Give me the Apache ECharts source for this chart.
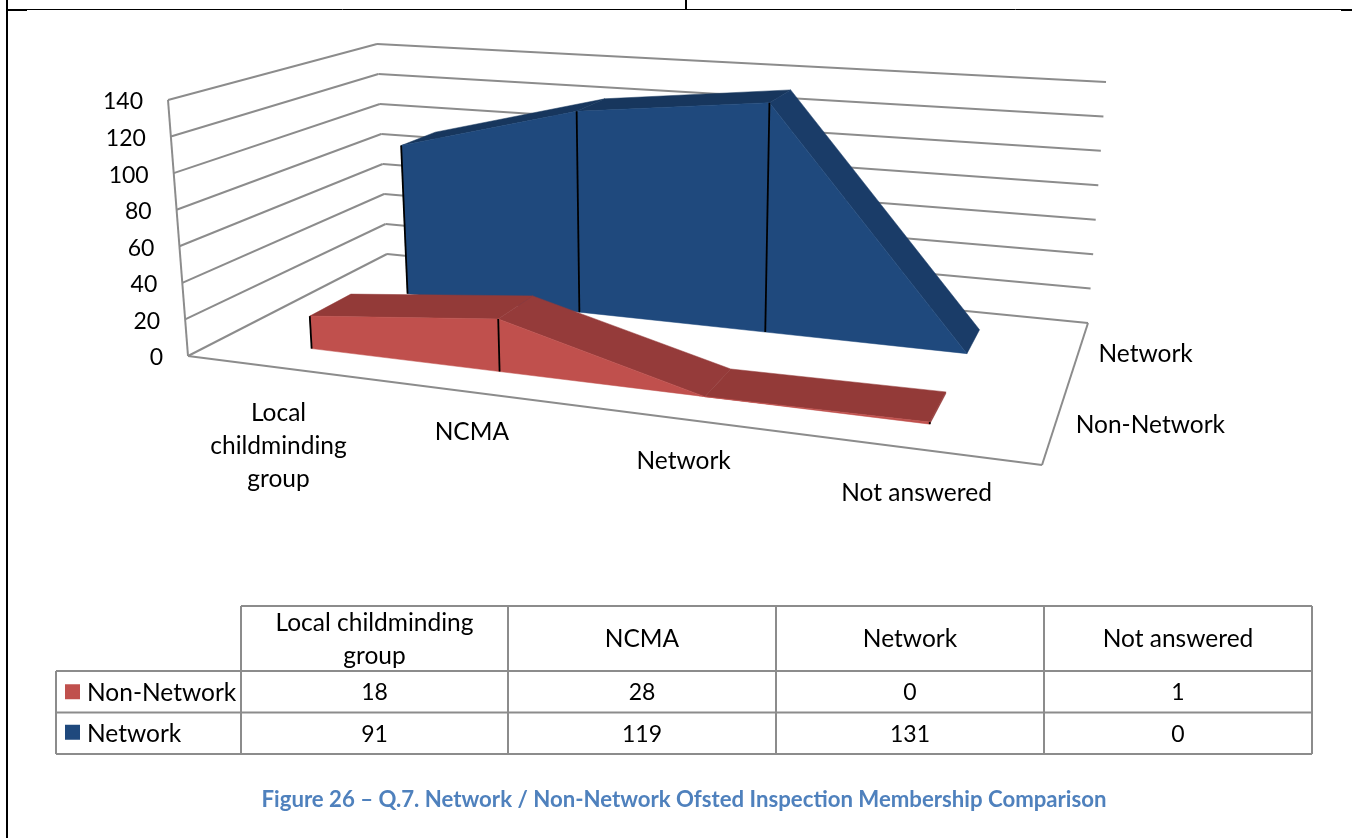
<!DOCTYPE html>
<html><head><meta charset="utf-8">
<style>html,body{margin:0;padding:0;background:#fff}#c{width:1352px;height:838px}</style>
<script src="https://cdn.jsdelivr.net/npm/echarts@6/dist/echarts.min.js"></script>
</head><body><div id="c"></div>
<script>
// ---- data ----
const categories = ['Local childminding group', 'NCMA', 'Network', 'Not answered'];
const axisCategoryLabels = ['Local\nchildminding\ngroup', 'NCMA', 'Network', 'Not answered'];
const tableCategoryLabels = ['Local childminding\ngroup', 'NCMA', 'Network', 'Not answered'];
const nonNetwork = [18, 28, 0, 1];
const network = [91, 119, 131, 0];
const seriesNames = ['Non-Network', 'Network'];
const valueTicks = [0, 20, 40, 60, 80, 100, 120, 140];
const captionText = 'Figure 26 \u2013 Q.7. Network / Non-Network Ofsted Inspection Membership Comparison';

// ---- look ----
const FONT = 'Lato, Carlito, sans-serif';
const LABEL = '24.5px ' + FONT;
const NUM = '23px ' + FONT;
const GREY = '#8c8c8c';
const BLUE = {front: '#1f497d', rise: '#17365d', fall: '#1a3c68'};
const RED = {front: '#c0504d', rise: '#933a38', fall: '#953b3a'};
const W = 1352, H = 838;
const categoryLabelDrop = [29, 23, 25, 28];

// ---- projection of the 3D box: unit (u along categories, v depth, w height) to the page ----
const FLOOR = [[188,356],[1042,465],[1088,323],[387,254]];
const ROOF = [[168,100],[1062,161],[1106,82],[377,44]];
function homography(q) {
  const [p0,p1,p2,p3] = q;
  const dx1=p1[0]-p2[0], dx2=p3[0]-p2[0], sx=p0[0]-p1[0]+p2[0]-p3[0];
  const dy1=p1[1]-p2[1], dy2=p3[1]-p2[1], sy=p0[1]-p1[1]+p2[1]-p3[1];
  const det=dx1*dy2-dx2*dy1;
  const g=(sx*dy2-dx2*sy)/det, h=(dx1*sy-sx*dy1)/det;
  const a=p1[0]-p0[0]+g*p1[0], b=p3[0]-p0[0]+h*p3[0];
  const d=p1[1]-p0[1]+g*p1[1], e=p3[1]-p0[1]+h*p3[1];
  return (u,v)=>{const k=g*u+h*v+1;return [(a*u+b*v+p0[0])/k,(d*u+e*v+p0[1])/k];};
}
const floorH = homography(FLOOR), roofH = homography(ROOF);
function project(u,v,w){
  const f=floorH(u,v), r=roofH(u,v);
  return [f[0]+(r[0]-f[0])*w, f[1]+(r[1]-f[1])*w];
}
// the hidden grid fills the page, so its scales give u and w
const unit = (api,cat,val)=>{const p=api.coord([cat,val]);return [p[0]/W,1-p[1]/H];};
const line = (a,b,color,width,z2)=>({type:'line',z2:z2||0,shape:{x1:a[0],y1:a[1],x2:b[0],y2:b[1]},style:{stroke:color,lineWidth:width}});
const poly = (pts,color,z2)=>({type:'polygon',z2:z2||0,shape:{points:pts},style:{fill:color,stroke:color,lineWidth:.5}});
const text = (t,x,y,align,vAlign,font,fill)=>({type:'text',z2:5,style:{text:t,x,y,align,verticalAlign:vAlign,font:font||LABEL,fill:fill||'#000',lineHeight:33}});

function areaSeries(name,values,v0,v1,col,z){
  return {type:'custom',name,xAxisIndex:0,yAxisIndex:0,z,silent:true,clip:false,
    data:values.map((val,i)=>[i,val]),
    encode:{x:0,y:1},
    renderItem(params,api){
      const i=api.value(0), val=api.value(1), kids=[];
      const [u,w]=unit(api,i,val), [,w0]=unit(api,i,0);
      if(val>0) kids.push(line(project(u,v0,w0),project(u,v0,w),'#000',1.8,3));
      if(i<values.length-1){
        const nv=values[i+1];
        const [un,wn]=unit(api,i+1,nv);
        kids.push(poly([project(u,v0,w),project(un,v0,wn),project(un,v1,wn),project(u,v1,w)],nv>=val?col.rise:col.fall,1));
        kids.push(poly([project(u,v0,w0),project(un,v0,w0),project(un,v0,wn),project(u,v0,w)],col.front,2));
      } else if(val>0){
        kids.push(poly([project(u,v0,w0),project(u,v1,w0),project(u,v1,w),project(u,v0,w)],col.fall,1));
      }
      return {type:'group',children:kids};
    }};
}

const wallSeries = {type:'custom',xAxisIndex:0,yAxisIndex:0,z:1,silent:true,clip:false,
  data:valueTicks.map(t=>[0,t]),encode:{x:0,y:1},
  renderItem(params,api){
    const t=api.value(1), [,w]=unit(api,0,t), kids=[];
    const left=project(0,0,w), back=project(0,1,w), right=project(1,1,w);
    kids.push(line(left,back,GREY,2), line(back,right,GREY,2));
    kids.push(text(String(t),left[0]-25,left[1]+2,'right','middle',NUM));
    if(params.dataIndex===0){
      kids.push(line(project(0,0,0),project(1,0,0),GREY,2));
      kids.push(line(project(1,0,0),project(1,1,0),GREY,2));
      kids.push(line(project(0,0,0),project(0,0,1),GREY,2));
    }
    return {type:'group',children:kids};
  }};

const labelSeries = {type:'custom',xAxisIndex:0,yAxisIndex:0,z:4,silent:true,clip:false,
  data:categories.map((c,i)=>[i,0]),encode:{x:0,y:1},
  renderItem(params,api){
    const i=api.value(0), [u]=unit(api,i,0), p=project(u,0,0);
    return text(axisCategoryLabels[i],p[0],p[1]+categoryLabelDrop[i],'center','top');
  }};

const depthLabelSeries = {type:'custom',xAxisIndex:0,yAxisIndex:0,z:4,silent:true,clip:false,
  data:seriesNames.map((n,i)=>[0,0]),encode:{x:0,y:1},
  renderItem(params,api){
    const i=params.dataIndex, p=project(1,i===0?.25:.75,0);
    return text(seriesNames[i],p[0]+20,p[1]+2,'left','middle');
  }};

// ---- table, page rules and caption ----
const colX=[56,241,508,776,1044,1312], rowY=[606,671,712.5,754];
const graphics=[];
const gLine=(x1,y1,x2,y2,color,w)=>graphics.push({type:'line',silent:true,shape:{x1,y1,x2,y2},style:{stroke:color,lineWidth:w}});
const gText=(t,x,y,align,font,fill)=>graphics.push({type:'text',silent:true,style:{text:t,x,y,align,verticalAlign:'middle',font:font||LABEL,fill:fill||'#000',lineHeight:33}});
// page rules
gLine(6,9.5,1352,9.5,'#000',1);
gLine(7,0,7,838,'#000',2);
gLine(686,0,686,9,'#000',2);
gLine(7,10,27,10,'#000',2);
gLine(1341,10,1352,10,'#000',2);
// grid of the table
gLine(colX[1],rowY[0],colX[5],rowY[0],GREY,2);
rowY.slice(1).forEach(y=>gLine(colX[0],y,colX[5],y,GREY,2));
colX.slice(1).forEach(x=>gLine(x,rowY[0],x,rowY[3],GREY,2));
gLine(colX[0],rowY[1],colX[0],rowY[3],GREY,2);
[[RED.front,nonNetwork],[BLUE.front,network]].forEach(([color,vals],r)=>{
  const cy=(rowY[r+1]+rowY[r+2])/2;
  graphics.push({type:'rect',silent:true,shape:{x:65,y:cy-7.5-(r===0?0:1),width:15,height:15},style:{fill:color}});
  gText(seriesNames[r],87,cy+1,'left');
  vals.forEach((v,c)=>gText(String(v),(colX[c+1]+colX[c+2])/2,cy+1,'center',NUM));
});
tableCategoryLabels.forEach((t,c)=>gText(t,(colX[c+1]+colX[c+2])/2,(rowY[0]+rowY[1])/2+1,'center'));
gText(captionText,684,800,'center','bold 22.2px '+FONT,'#4f81bd');

const chart=echarts.init(document.getElementById('c'),null,{renderer:'canvas'});
chart.setOption({
  animation:false,
  backgroundColor:'#fff',
  grid:{left:0,top:0,width:W,height:H,containLabel:false,show:false},
  xAxis:{type:'category',data:categories,boundaryGap:true,show:false},
  yAxis:{type:'value',min:0,max:140,interval:20,show:false},
  series:[
    wallSeries,
    areaSeries('Network',network,.65,.85,BLUE,2),
    areaSeries('Non-Network',nonNetwork,.15,.35,RED,3),
    labelSeries,
    depthLabelSeries
  ],
  graphic:graphics
});
</script></body></html>
